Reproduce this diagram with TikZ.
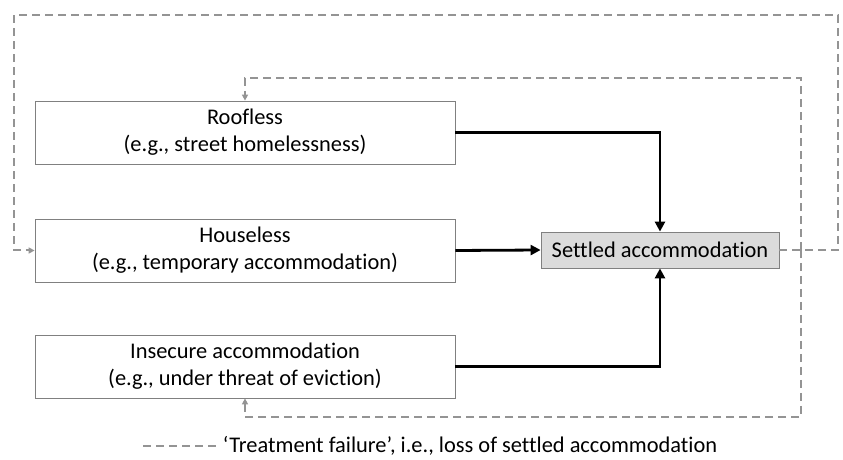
\documentclass[tikz,border=0pt]{standalone}
\usepackage{fontspec}
\setmainfont[Ligatures=CommonOff]{Carlito}
\usetikzlibrary{arrows.meta}

\begin{document}
\begin{tikzpicture}[x=0.5pt, y=-0.5pt,
    every node/.style={font=\fontsize{11.2}{13.5}\selectfont},
    box/.style={draw=gray, thin, align=center, minimum width=210pt, minimum height=31.5pt},
    settled/.style={draw=gray, fill=black!14, thin, minimum width=119pt, minimum height=18pt, inner sep=0pt},
    flow/.style={line width=1.4pt, -{Triangle[length=5pt,width=5pt]}},
    fail/.style={draw=black!42, line width=1pt, dash pattern=on 4pt off 2.5pt},
    tip/.style={-{Triangle[length=3pt,width=3pt]}},
    ]
    \useasboundingbox (0,0) rectangle (843,460);
    \node[box] (roofless) at (245,132.5) {Roofless\\(e.g., street homelessness)};
    \node[box] (houseless) at (245,250.5) {Houseless\\(e.g., temporary accommodation)};
    \node[box] (insecure) at (245,366.5) {Insecure accommodation\\(e.g., under threat of eviction)};
    \node[settled] (settled) at (660,250) {Settled accommodation};
    \draw[flow] (roofless.east) -| (settled.north);
    \draw[flow] (houseless.east) -- (settled.west);
    \draw[flow] (insecure.east) -| (settled.south);
    % treatment failure loops
    \coordinate (junc) at (801,250);
    \draw[fail,tip] (settled.east) -- (838,250) -- (838,15) -- (14,15) |- (houseless.west);
    \draw[fail,tip] (junc) -- (801,78) -| (roofless.north);
    \draw[fail,tip] (junc) -- (801,417) -| (insecure.south);
    % legend
    \node (legend) at (470,446) {`Treatment failure', i.e., loss of settled accommodation};
    \coordinate (key) at (143,446);
    \draw[fail] (key) -- (legend.west);
\end{tikzpicture}
\end{document}
